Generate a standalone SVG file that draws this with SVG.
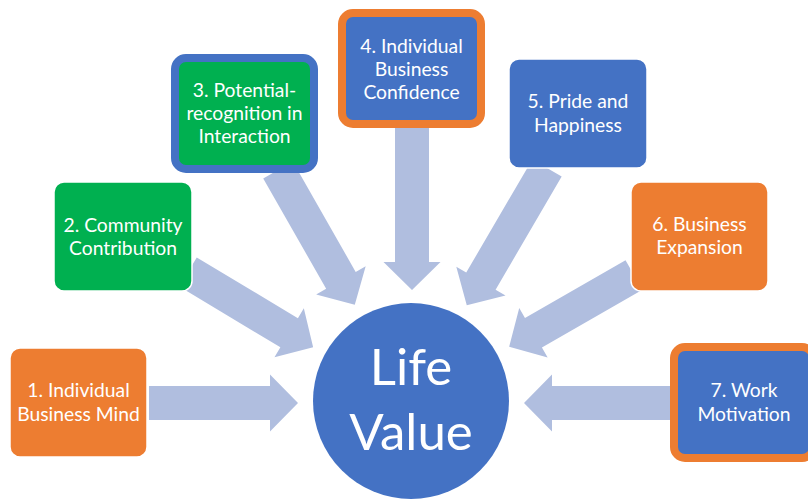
<svg xmlns="http://www.w3.org/2000/svg" width="808" height="499" viewBox="0 0 808 499">
  <style>
    .arrow { fill: #B0BEDF; }
    .box { stroke: #FFFFFF; stroke-width: 1.5; }
    .orange { fill: #ED7D31; }
    .blue { fill: #4472C4; }
    .green { fill: #00B050; }
    .ring-blue { stroke: #4472C4; stroke-width: 8; }
    .ring-orange { stroke: #ED7D31; stroke-width: 8; }
    .label { font-family: Lato, "Open Sans", "Liberation Sans", sans-serif; font-size: 19.3px; fill: #FFFFFF; text-anchor: middle; }
    .hub { font-family: Lato, "Open Sans", "Liberation Sans", sans-serif; font-size: 51px; fill: #FFFFFF; text-anchor: middle; }
  </style>
  <rect width="808" height="499" fill="#FFFFFF"/>

  <!-- block arrows pointing at the hub -->
  <g id="connectors">
    <polygon class="arrow" transform="translate(149,403)" points="0,-17 121,-17 121,-28.5 149,0 121,28.5 121,17 0,17"/>
    <polygon class="arrow" transform="translate(188,272) rotate(31)" points="0,-17 118,-17 118,-28.5 146,0 118,28.5 118,17 0,17"/>
    <polygon class="arrow" transform="translate(278,170) rotate(60.3)" points="0,-17 127,-17 127,-28.5 155,0 127,28.5 127,17 0,17"/>
    <polygon class="arrow" transform="translate(412,128) rotate(90)" points="0,-17 134,-17 134,-28.5 162,0 134,28.5 134,17 0,17"/>
    <polygon class="arrow" transform="translate(547,168) rotate(120.3)" points="0,-17 131,-17 131,-28.5 159,0 131,28.5 131,17 0,17"/>
    <polygon class="arrow" transform="translate(634,275) rotate(150.1)" points="0,-17 116,-17 116,-28.5 144,0 116,28.5 116,17 0,17"/>
    <polygon class="arrow" transform="translate(670,403) rotate(180)" points="0,-17 118,-17 118,-28.5 146,0 118,28.5 118,17 0,17"/>
  </g>

  <g id="hub">
    <circle cx="411" cy="401" r="98" class="blue"/>
    <text class="hub" x="411" y="385">Life</text>
    <text class="hub" x="411" y="450">Value</text>
  </g>

  <g id="node1">
    <rect class="box orange" x="10" y="348" width="137" height="109" rx="10"/>
    <text class="label" x="78.5" y="397">1. Individual</text>
    <text class="label" x="78.5" y="421">Business Mind</text>
  </g>

  <g id="node2">
    <rect class="box green" x="54" y="182" width="138" height="109" rx="10"/>
    <text class="label" x="123" y="232">2. Community</text>
    <text class="label" x="123" y="255">Contribution</text>
  </g>

  <g id="node3">
    <rect class="green ring-blue" x="175" y="58" width="139" height="111" rx="11"/>
    <text class="label" x="244.5" y="97">3. Potential-</text>
    <text class="label" x="244.5" y="120">recognition in</text>
    <text class="label" x="244.5" y="143">Interaction</text>
  </g>

  <g id="node4">
    <rect class="blue ring-orange" x="342" y="13" width="139" height="111" rx="11"/>
    <text class="label" x="411.5" y="53">4. Individual</text>
    <text class="label" x="411.5" y="76">Business</text>
    <text class="label" x="411.5" y="99">Confidence</text>
  </g>

  <g id="node5">
    <rect class="box blue" x="509" y="59" width="138" height="109" rx="10"/>
    <text class="label" x="578" y="108">5. Pride and</text>
    <text class="label" x="578" y="132">Happiness</text>
  </g>

  <g id="node6">
    <rect class="box orange" x="631" y="182" width="137" height="109" rx="10"/>
    <text class="label" x="699.5" y="231">6. Business</text>
    <text class="label" x="699.5" y="254">Expansion</text>
  </g>

  <g id="node7">
    <rect class="blue ring-orange" x="674" y="347" width="139" height="111" rx="11"/>
    <text class="label" x="744" y="397">7. Work</text>
    <text class="label" x="744" y="421">Motivation</text>
  </g>
</svg>
